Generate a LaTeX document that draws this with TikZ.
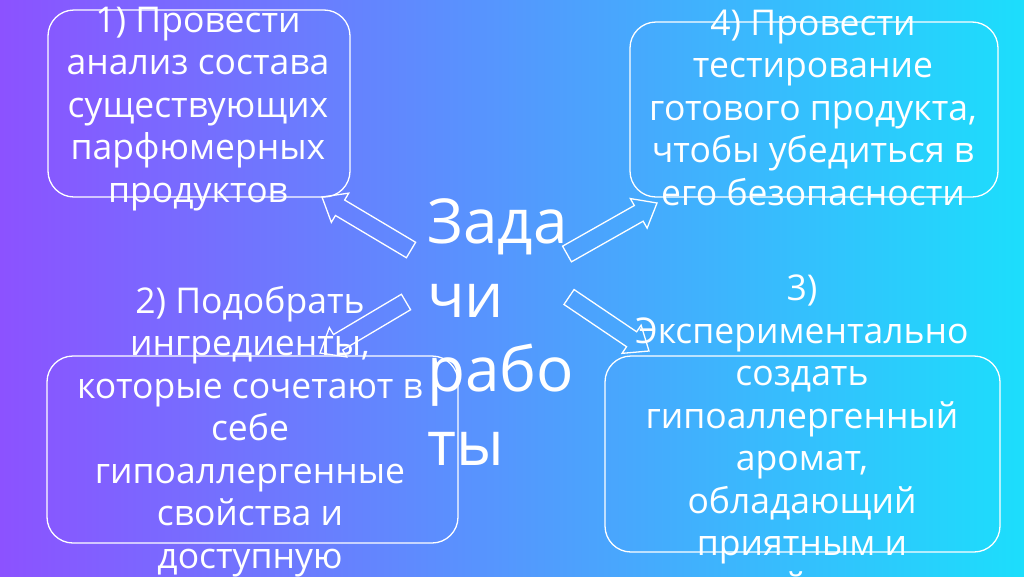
\documentclass[tikz,border=0pt]{standalone}
\usepackage{fontspec}
\setmainfont{Open Sans}
\usepackage{tikz}
\usetikzlibrary{calc}
\definecolor{bgleft}{RGB}{140,82,255}
\definecolor{bgright}{RGB}{28,222,252}
\tikzset{taskbox/.style = {draw=white, line width=1.3, rounded corners=26, inner sep=0}}
\tikzset{tasktext/.style = {text=white, align=center, inner sep=0, font=\fontsize{35.5}{42.5}\selectfont}}
\tikzset{titletext/.style = {text=white, align=left, inner sep=0, font=\fontsize{62}{74}\selectfont}}
\tikzset{hollow/.style = {draw=white, line width=1.3, line join=miter}}
% hollow block arrow from #1 (tail) to #2 (tip)
\newcommand\hollowarrow[2]{%
  \coordinate (neck) at ($(#2)!21pt!(#1)$);
  \draw [hollow] ($(#1)!9pt!90:(#2)$) -- ($(neck)!9pt!-90:(#1)$) -- ($(neck)!17pt!-90:(#1)$) -- (#2)
    -- ($(neck)!17pt!90:(#1)$) -- ($(neck)!9pt!90:(#1)$) -- ($(#1)!9pt!-90:(#2)$) -- cycle;}

\begin{document}
\begin{tikzpicture}[x=1pt, y=-1pt]
    \useasboundingbox (0, 0) rectangle (1024, 576);
    \shade [left color=bgleft, right color=bgright] (0, 0) rectangle (1024, 576);
    \clip (0, 0) rectangle (1024, 576);

    \node [taskbox, minimum width=302, minimum height=187] (box1) at (199, 103.5) {};
    \node [taskbox, minimum width=368, minimum height=175] (box4) at (814, 109.5) {};
    \node [taskbox, minimum width=411, minimum height=187] (box2) at (252.5, 449.5) {};
    \node [taskbox, minimum width=395, minimum height=196] (box3) at (802.5, 454) {};

    % base of a multi-line node = baseline of its last line
    \node [tasktext, anchor=base] (text1) at (198, 202) {1) Провести\\анализ состава\\существующих\\парфюмерных\\продуктов};
    \node [tasktext, anchor=base] (text4) at (813, 205) {4) Провести\\тестирование\\готового продукта,\\чтобы убедиться в\\его безопасности};
    \node [tasktext, anchor=base] (text2) at (250, 568) {2) Подобрать\\ингредиенты,\\которые сочетают в\\себе\\гипоаллергенные\\свойства и\\доступную};
    \node [tasktext, anchor=base] (text3) at (802, 598) {3)\\Экспериментально\\создать\\гипоаллергенный\\аромат,\\обладающий\\приятным и\\стойким};

    \node [titletext, anchor=base west] (title) at (427, 465) {Зада\\чи\\рабо\\ты};

    \coordinate (tail1) at (411, 250);
    \coordinate (tip1) at (322, 197);
    \coordinate (tail4) at (567, 254);
    \coordinate (tip4) at (657, 203);
    \coordinate (tail2) at (406, 302);
    \coordinate (tip2) at (320, 353);
    \coordinate (tail3) at (569, 297);
    \coordinate (tip3) at (649, 351);

    \hollowarrow{tail1}{tip1}
    \hollowarrow{tail4}{tip4}
    \hollowarrow{tail2}{tip2}
    \hollowarrow{tail3}{tip3}
\end{tikzpicture}
\end{document}
